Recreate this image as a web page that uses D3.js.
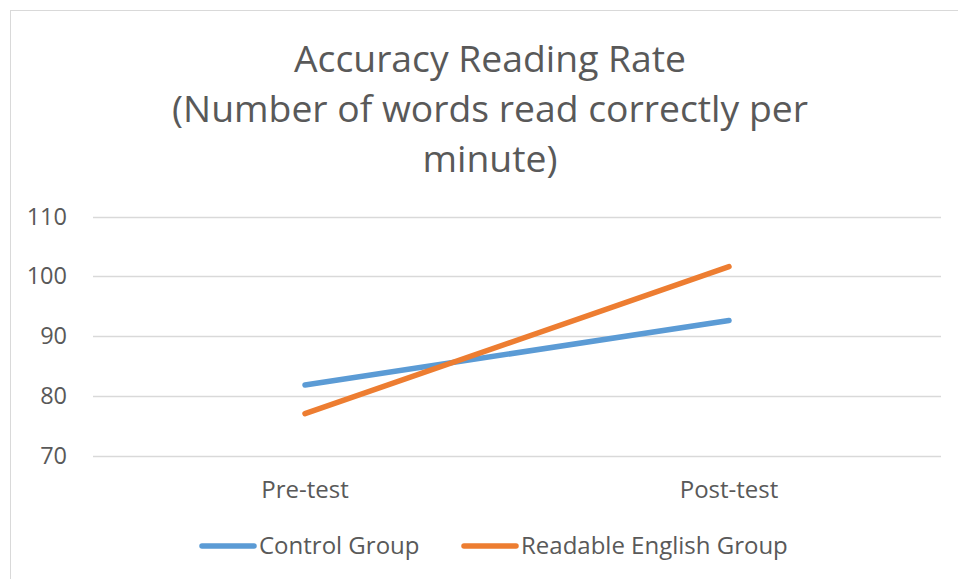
<!DOCTYPE html>
<html><head><meta charset="utf-8">
<script src="https://cdn.jsdelivr.net/npm/d3@7"></script>
<style>html,body{margin:0;padding:0;background:#fff;}svg{display:block;font-family:"Open Sans",sans-serif;}</style>
</head><body><svg id="c" width="958" height="579"></svg>
<script>
const categories = ["Pre-test", "Post-test"];
const seriesNames = ["Control Group", "Readable English Group"];
const controlValues = [81.8, 92.6];
const readableValues = [77.0, 101.6];
const yTicks = [70, 80, 90, 100, 110];
const titleLines = ["Accuracy Reading Rate", "(Number of words read correctly per", "minute)"];
const colors = ["#5B9BD5", "#ED7D31"];

(function () {
const svg = d3.select("#c");
svg.append("rect").attr("x", 10.5).attr("y", 10.5).attr("width", 960).attr("height", 600)
  .attr("fill", "none").attr("stroke", "#d9d9d9").attr("stroke-width", 1);

const mLeft = 93, mRight = 941, mTop = 216.5, mBottom = 455.5;
const x = d3.scaleBand().domain(categories).range([mLeft, mRight]);
const y = d3.scaleLinear().domain([70, 110]).range([mBottom, mTop]);

svg.append("g").selectAll("text").data(titleLines).join("text")
  .attr("x", 490).attr("y", (d, i) => 72 + i * 50)
  .attr("text-anchor", "middle").attr("font-size", 37.3).attr("fill", "#595959")
  .text(d => d);

svg.append("g").selectAll("line").data(yTicks).join("line")
  .attr("x1", mLeft).attr("x2", mRight)
  .attr("y1", d => Math.round(y(d)) + 0.5).attr("y2", d => Math.round(y(d)) + 0.5)
  .attr("stroke", "#d9d9d9").attr("stroke-width", 1.3);

svg.append("g").selectAll("text").data(yTicks).join("text")
  .attr("x", 67).attr("y", d => y(d)).attr("dy", "0.35em")
  .attr("text-anchor", "end").attr("font-size", 23.5).attr("fill", "#595959")
  .text(d => d);

svg.append("g").selectAll("text").data(categories).join("text")
  .attr("x", d => x(d) + x.bandwidth() / 2).attr("y", 498)
  .attr("text-anchor", "middle").attr("font-size", 24).attr("fill", "#595959")
  .text(d => d);

const allSeries = [controlValues, readableValues];
const line = d3.line().x((d, i) => x(categories[i]) + x.bandwidth() / 2).y(d => y(d));
svg.append("g").selectAll("path").data(allSeries).join("path")
  .attr("d", d => line(d)).attr("fill", "none")
  .attr("stroke", (d, i) => colors[i]).attr("stroke-width", 5.5)
  .attr("stroke-linecap", "round").attr("stroke-linejoin", "round");

const legendX = [202, 464];
const lg = svg.append("g").selectAll("g").data(seriesNames).join("g")
  .attr("transform", (d, i) => `translate(${legendX[i]},546)`);
lg.append("line").attr("x1", 0).attr("x2", 52).attr("y1", 0).attr("y2", 0)
  .attr("stroke", (d, i) => colors[i]).attr("stroke-width", 5.5).attr("stroke-linecap", "round");
lg.append("text").attr("x", 57).attr("y", 0).attr("dy", "0.35em")
  .attr("font-size", 24).attr("fill", "#595959").text(d => d);
})();
</script></body></html>
